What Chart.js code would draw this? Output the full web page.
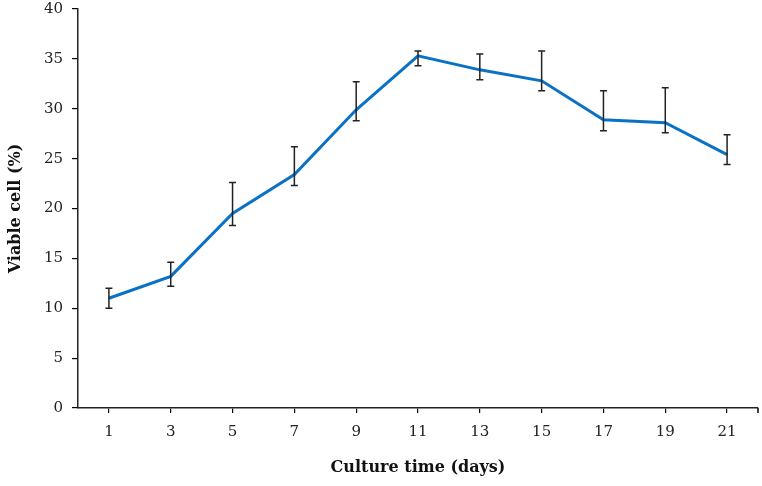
<!DOCTYPE html>
<html>
<head>
<meta charset="utf-8">
<script src="https://cdn.jsdelivr.net/npm/chart.js@4"></script>
<style>
  html, body { margin: 0; padding: 0; background: #fff; }
  #wrap { width: 762px; height: 486px; }
</style>
</head>
<body>
<div id="wrap"><canvas id="viableChart"></canvas></div>
<script>
// culture days and viable cell %, with error bar ends
var days = ["1", "3", "5", "7", "9", "11", "13", "15", "17", "19", "21"];
var viable = [11.0, 13.2, 19.5, 23.4, 29.9, 35.3, 33.9, 32.8, 28.9, 28.6, 25.4];
var errHigh = [12.0, 14.6, 22.6, 26.2, 32.7, 35.8, 35.5, 35.8, 31.8, 32.1, 27.4];
var errLow = [10.0, 12.2, 18.3, 22.3, 28.8, 34.3, 32.9, 31.8, 27.8, 27.6, 24.4];
var yTicks = [0, 5, 10, 15, 20, 25, 30, 35, 40];

var serif = "'DejaVu Serif', serif";

// draws the black error bars with caps, plus the end tick on the x axis
var errorBars = {
  id: 'errorBars',
  afterDatasetsDraw: function(chart) {
    var ctx = chart.ctx;
    var xs = chart.scales.x, ys = chart.scales.y;
    ctx.save();
    ctx.strokeStyle = '#222';
    ctx.lineWidth = 1.5;
    for (var i = 0; i < days.length; i++) {
      var x = xs.getPixelForValue(i);
      var top = ys.getPixelForValue(errHigh[i]);
      var bot = ys.getPixelForValue(errLow[i]);
      ctx.beginPath();
      ctx.moveTo(x, top); ctx.lineTo(x, bot);
      ctx.moveTo(x - 3.5, top); ctx.lineTo(x + 3.5, top);
      ctx.moveTo(x - 3.5, bot); ctx.lineTo(x + 3.5, bot);
      ctx.stroke();
    }
    // small tick at the right end of the x axis
    var r = chart.chartArea.right, b = chart.chartArea.bottom;
    ctx.strokeStyle = '#000';
    ctx.beginPath();
    ctx.moveTo(r, b); ctx.lineTo(r, b + 5);
    ctx.stroke();
    ctx.restore();
  }
};

var ctx = document.getElementById('viableChart').getContext('2d');
var chart = new Chart(ctx, {
  type: 'line',
  data: {
    labels: days,
    datasets: [{
      label: "Viable cell",
      data: viable,
      borderColor: '#0a72c4',
      borderWidth: 3,
      pointRadius: 0,
      tension: 0,
      fill: false
    }]
  },
  options: {
    responsive: true,
    maintainAspectRatio: false,
    animation: false,
    layout: { padding: { top: 9, right: 4, left: 0, bottom: 0 } },
    plugins: {
      legend: { display: false },
      tooltip: { enabled: false }
    },
    scales: {
      x: {
        offset: true,
        grid: {
          offset: false,
          drawOnChartArea: false,
          drawTicks: true,
          tickLength: 5,
          color: '#000',
          lineWidth: 1.2
        },
        border: { color: '#222', width: 1.5 },
        ticks: {
          color: '#222',
          padding: 10,
          maxRotation: 0,
          font: { family: serif, size: 15 }
        },
        title: {
          display: true,
          text: 'Culture time (days)',
          color: '#111',
          padding: { top: 6, bottom: 9 },
          font: { family: serif, size: 16, weight: 'bold' }
        },
        afterFit: function(scale) { scale.height = 78; }
      },
      y: {
        min: 0,
        max: 40,
        afterBuildTicks: function(scale) {
          scale.ticks = yTicks.map(function(v) { return { value: v }; });
        },
        grid: {
          drawOnChartArea: false,
          drawTicks: true,
          tickLength: 6,
          color: '#000',
          lineWidth: 1.2
        },
        border: { color: '#222', width: 1.5 },
        ticks: {
          color: '#222',
          padding: 9,
          font: { family: serif, size: 15 }
        },
        title: {
          display: true,
          text: 'Viable cell (%)',
          color: '#111',
          padding: { top: 6, bottom: 8 },
          font: { family: serif, size: 16, weight: 'bold' }
        },
        afterFit: function(scale) {
          scale.width = 78;
          scale.paddingTop = 0;
          scale.paddingBottom = 0;
        }
      }
    }
  },
  plugins: [errorBars]
});
</script>
</body>
</html>
